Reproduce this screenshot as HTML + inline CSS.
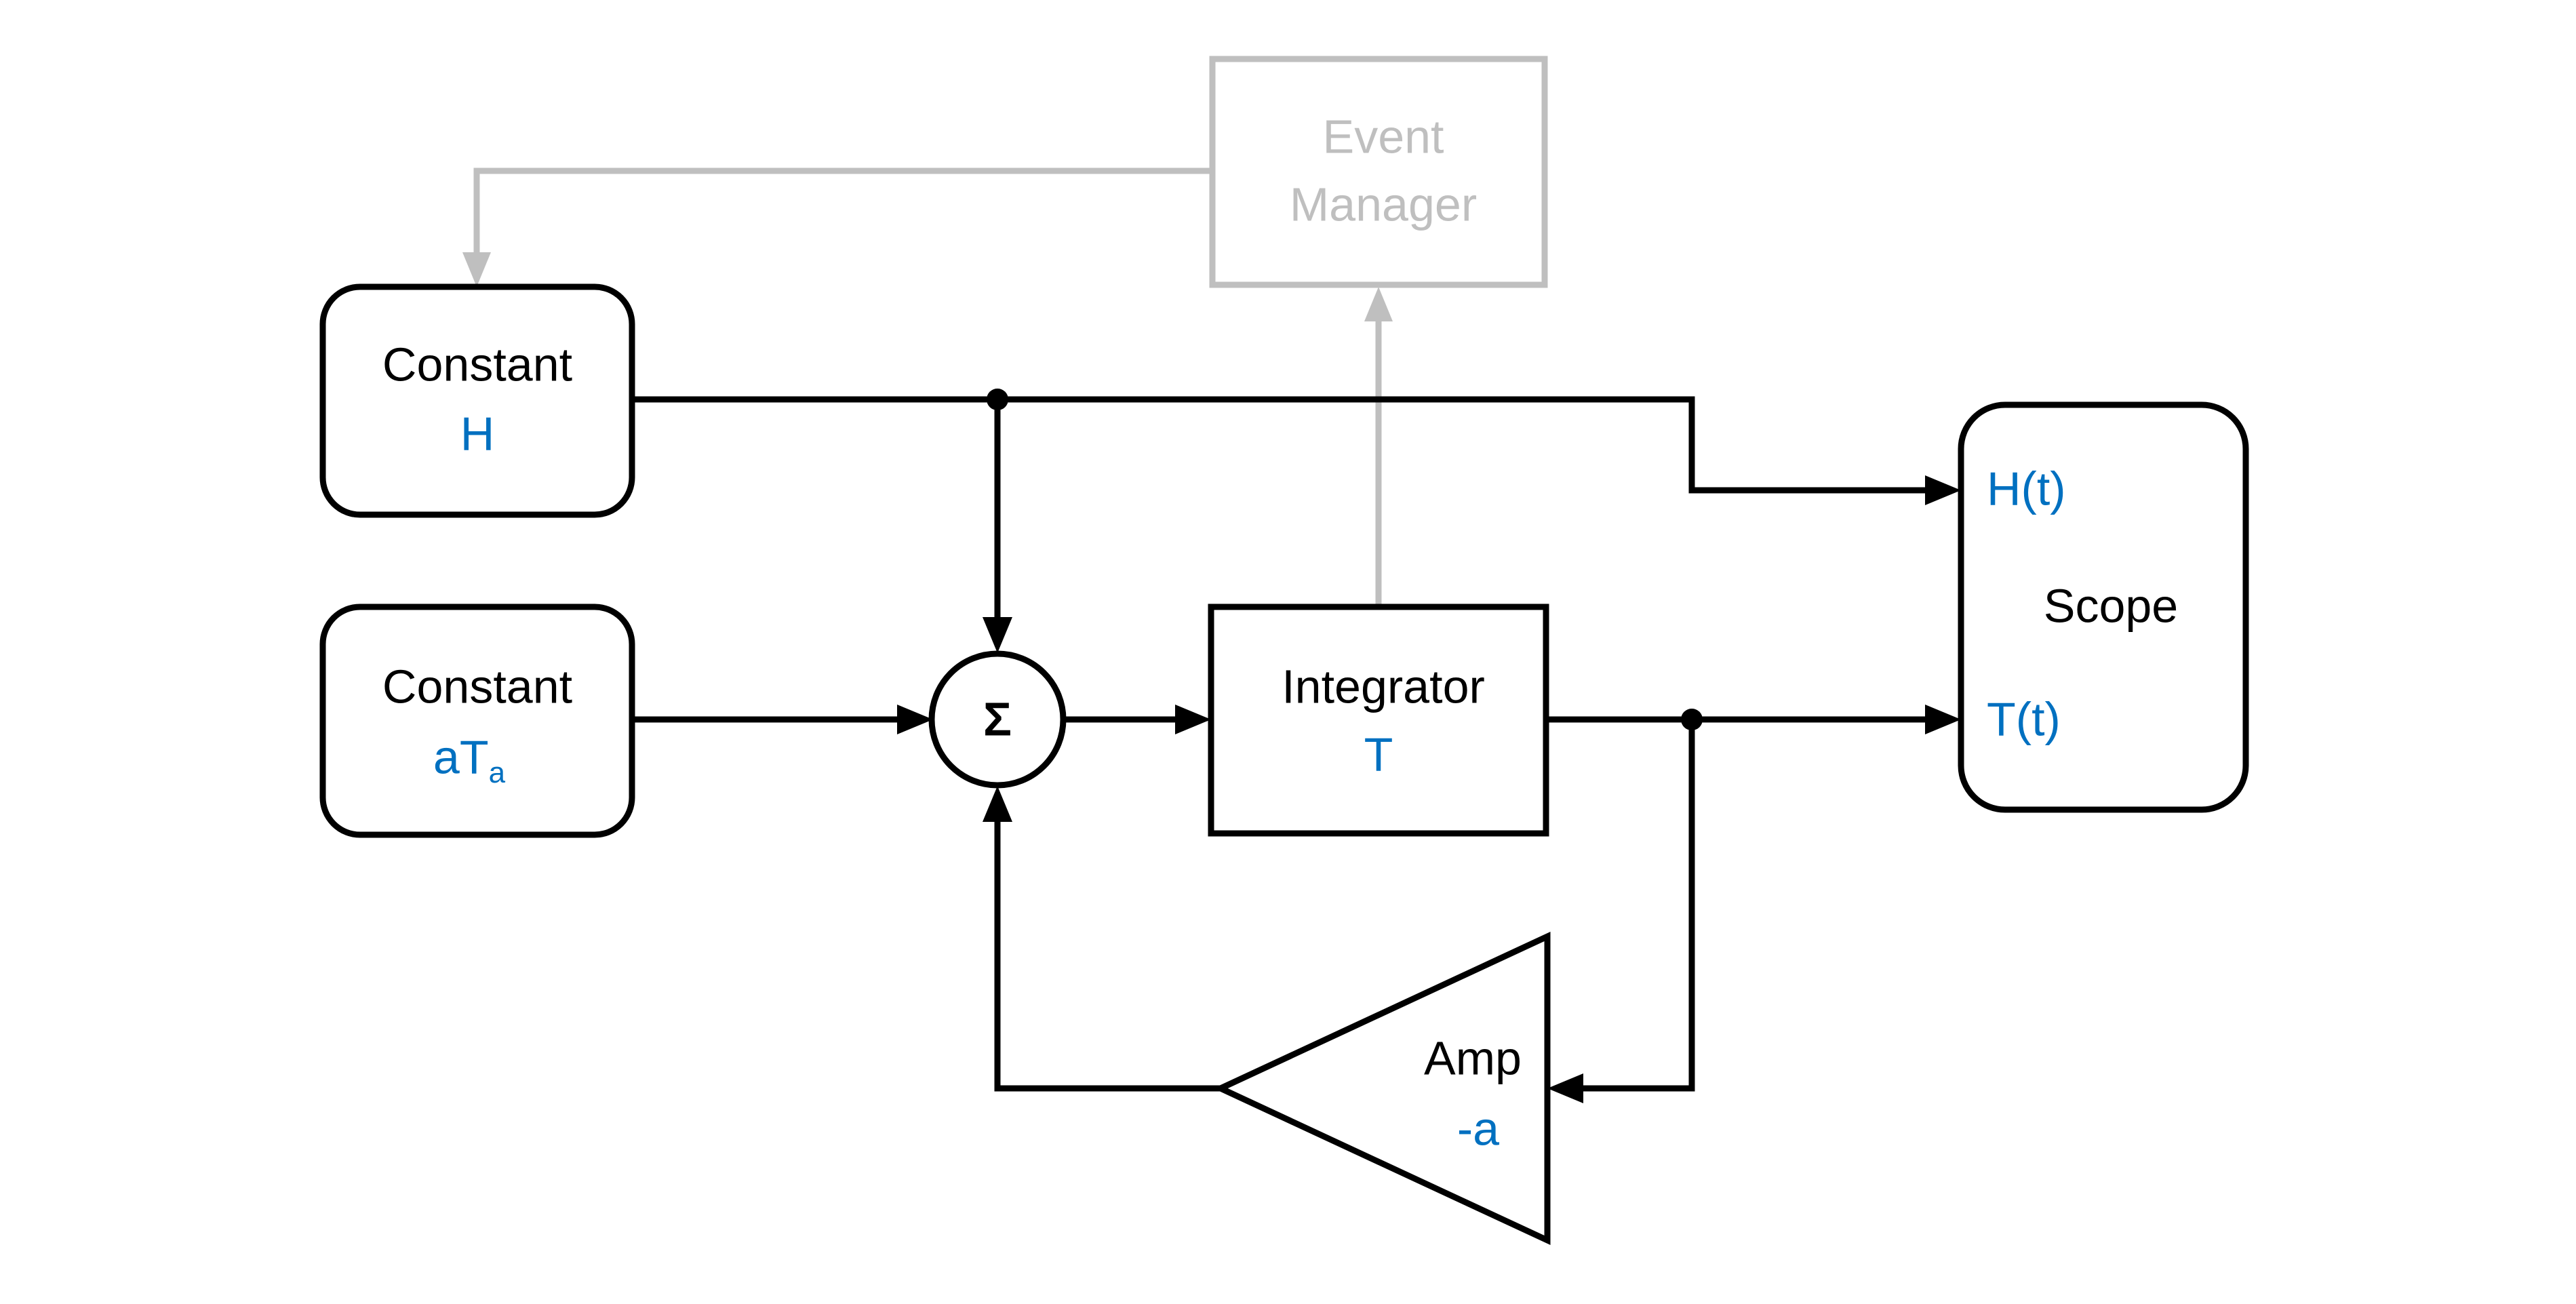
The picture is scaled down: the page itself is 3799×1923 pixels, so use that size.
<!DOCTYPE html>
<html><head><meta charset="utf-8"><style>
html,body{margin:0;padding:0;background:#fff}
svg{display:block}
text{font-family:"Liberation Sans",sans-serif;font-size:70px;text-anchor:middle;dominant-baseline:middle}
.b{fill:#0070c0}
</style></head><body>
<svg width="3799" height="1923" viewBox="0 0 3799 1923" xmlns="http://www.w3.org/2000/svg">
<g fill="none" stroke="#bfbfbf" stroke-width="9">
<rect x="1788" y="87" width="490" height="333"/>
<polyline points="1788,252 703,252 703,380"/>
<line x1="2033" y1="891" x2="2033" y2="465"/>
</g>
<g fill="#bfbfbf">
<polygon points="682,372 724,372 703,423"/>
<polygon points="2012,474 2054,474 2033,423"/>
</g>
<text x="2040" y="207" fill="#bfbfbf">Event</text>
<text x="2040" y="307" fill="#bfbfbf">Manager</text>

<g fill="none" stroke="#000" stroke-width="9">
<rect x="476" y="423" width="456" height="336" rx="55"/>
<rect x="476" y="895" width="456" height="336" rx="55"/>
<rect x="1786" y="895" width="494" height="334"/>
<rect x="2892" y="597" width="420" height="597" rx="65"/>
<circle cx="1471" cy="1061" r="97"/>
<polygon points="1800,1605 2282,1381 2282,1829"/>
<polyline points="932,589 2495,589 2495,723 2840,723"/>
<line x1="1471" y1="589" x2="1471" y2="920"/>
<line x1="932" y1="1061" x2="1330" y2="1061"/>
<line x1="1567" y1="1061" x2="1745" y2="1061"/>
<polyline points="2280,1061 2840,1061"/>
<polyline points="2495,1061 2495,1605 2325,1605"/>
<polyline points="1800,1605 1471,1605 1471,1200"/>
</g>
<g fill="#000">
<circle cx="1471" cy="589" r="16"/>
<circle cx="2495" cy="1061" r="16"/>
<polygon points="1449,910 1493,910 1471,963"/>
<polygon points="1449,1212 1493,1212 1471,1159"/>
<polygon points="1323,1039 1323,1083 1376,1061"/>
<polygon points="1733,1039 1733,1083 1786,1061"/>
<polygon points="2839,1039 2839,1083 2892,1061"/>
<polygon points="2839,701 2839,745 2892,723"/>
<polygon points="2335,1583 2335,1627 2282,1605"/>
</g>
<text x="704" y="543">Constant</text>
<text x="704" y="645" class="b">H</text>
<text x="704" y="1018">Constant</text>
<text x="692" y="1122" class="b">aT<tspan font-size="44" dy="20">a</tspan></text>
<text x="1471" y="1066" font-weight="bold" font-size="88">Σ</text>
<text x="2040" y="1018">Integrator</text>
<text x="2033" y="1118" class="b">T</text>
<text x="3113" y="899">Scope</text>
<text x="2930" y="726" class="b" style="text-anchor:start">H(t)</text>
<text x="2930" y="1066" class="b" style="text-anchor:start">T(t)</text>
<text x="2172" y="1566">Amp</text>
<text x="2180" y="1670" class="b">-a</text>
</svg>
</body></html>
